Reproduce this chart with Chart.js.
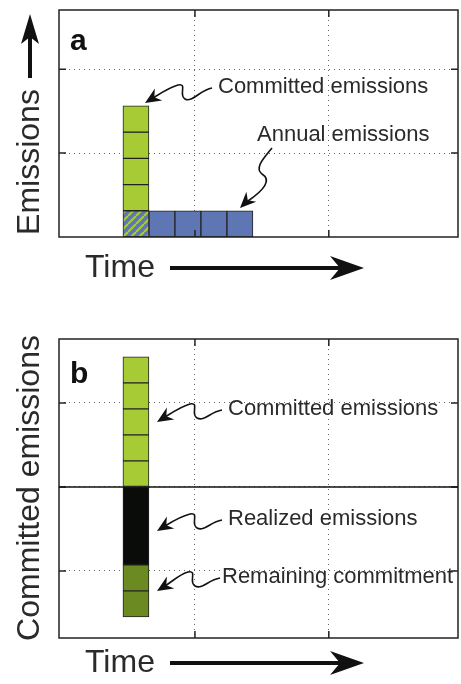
<!DOCTYPE html>
<html><head><meta charset="utf-8">
<script src="https://cdn.jsdelivr.net/npm/chart.js@4"></script>
<style>body{margin:0;background:#fff;width:461px;height:684px;overflow:hidden}
canvas{position:absolute;left:0}</style></head><body>
<div style="position:absolute;left:0;top:0;width:461px;height:300px"><canvas id="ca"></canvas></div>
<div style="position:absolute;left:0;top:300px;width:461px;height:384px"><canvas id="cb"></canvas></div>
<script>
// Panel a data (cell units)
const aCommittedX = [2.96, 2.96, 2.96, 2.96];
const aCommittedY = [[1,2],[2,3],[3,4],[4,5]];
const aSharedX = [2.96];
const aSharedY = [[0,1]];
const aAnnualX = [3.96, 4.96, 5.96, 6.96];
const aAnnualY = [[0,1],[0,1],[0,1],[0,1]];
const aXGrid = [5.23, 10.38];
const aYGrid = [3.2, 6.4];
// Panel b data
const bX = [2.96];
const bCommittedY = [[0,1],[1,2],[2,3],[3,4],[4,5]];
const bRealizedY = [[-3,0]];
const bRemainingY = [[-5,-4],[-4,-3]];
const bXGrid = [5.23, 10.38];
const bYGrid = [-3.23, 0, 3.23];

const LIGHT='#a6cb34', BLUE='#5f76b5', DARK='#6b8a22', FONT='"Liberation Sans", Arial, sans-serif';

function hatch(){
  const c=document.createElement('canvas');c.width=8;c.height=8;const g=c.getContext('2d');
  g.fillStyle=BLUE;g.fillRect(0,0,8,8);g.strokeStyle=LIGHT;g.lineWidth=2.2;
  for(let k=-8;k<=16;k+=8){g.beginPath();g.moveTo(k,8);g.lineTo(k+8,0);g.stroke();}
  return g.createPattern(c,'repeat');
}
function pts(xs,ys){return ys.map((y,i)=>({x:xs[Math.min(i,xs.length-1)],y}));}
function ds(data,color){return {data,backgroundColor:color,borderColor:'#222',borderWidth:1,borderSkipped:false,barThickness:26,grouped:false};}

function head(ctx,x,y,ang){ctx.save();ctx.translate(x,y);ctx.rotate(ang);ctx.beginPath();ctx.moveTo(0,0);ctx.lineTo(-16,-7);ctx.lineTo(-11,0);ctx.lineTo(-16,7);ctx.closePath();ctx.fill();ctx.restore();}
function squiggle(ctx,x0,y0,x1,y1,mx,my){
  ctx.save();ctx.strokeStyle='#111';ctx.fillStyle='#111';ctx.lineWidth=1.6;
  ctx.beginPath();ctx.moveTo(x0,y0);
  ctx.bezierCurveTo(x0-12,y0+2,mx+10,my+10,mx+3,my+6);
  ctx.bezierCurveTo(mx-4,my+2,mx+6,my-10,mx-4,my-8);
  ctx.bezierCurveTo(mx-12,my-6,x1+16,y1-10,x1+8,y1-5);
  ctx.stroke();
  head(ctx,x1,y1,Math.atan2(5,-8));
  ctx.restore();
}
function arrowH(ctx,x0,x1,y){
  ctx.save();ctx.fillStyle='#111';ctx.fillRect(x0,y-2,x1-x0-20,4);
  ctx.beginPath();ctx.moveTo(x1,y);ctx.lineTo(x1-34,y-12);ctx.lineTo(x1-24,y);ctx.lineTo(x1-34,y+12);ctx.closePath();ctx.fill();ctx.restore();
}
function frame(chart,xg,yg){
  const {ctx,chartArea:a,scales:{x,y}}=chart;ctx.save();ctx.strokeStyle='#222';ctx.lineWidth=1.5;
  ctx.strokeRect(a.left,a.top,a.right-a.left,a.bottom-a.top);
  xg.forEach(v=>{const p=x.getPixelForValue(v);ctx.beginPath();ctx.moveTo(p,a.top);ctx.lineTo(p,a.top+7);ctx.moveTo(p,a.bottom);ctx.lineTo(p,a.bottom-7);ctx.stroke();});
  yg.forEach(v=>{const p=y.getPixelForValue(v);ctx.beginPath();ctx.moveTo(a.left,p);ctx.lineTo(a.left+7,p);ctx.moveTo(a.right,p);ctx.lineTo(a.right-7,p);ctx.stroke();});
  ctx.restore();
}
function scalesFor(xmax,xg,ymin,ymax,yg){
  const grid={color:'#666',lineWidth:1,drawTicks:false,offset:false};
  return {
    x:{type:'linear',offset:false,min:0,max:xmax,afterBuildTicks:s=>{s.ticks=xg.map(v=>({value:v}))},ticks:{display:false},grid:Object.assign({},grid),border:{display:false,dash:[1,4]}},
    y:{type:'linear',min:ymin,max:ymax,afterBuildTicks:s=>{s.ticks=yg.map(v=>({value:v}))},ticks:{display:false},grid:Object.assign({},grid),border:{display:false,dash:[1,4]}}
  };
}
function text(ctx,s,x,y,size,weight,align){ctx.font=(weight||'normal')+' '+size+'px '+FONT;ctx.fillStyle=weight==='bold'?'#111':'#2a2a2a';ctx.textAlign=align||'left';ctx.textBaseline='middle';ctx.fillText(s,x,y);}

const decoA={id:'decoA',afterDraw(c){
  const ctx=c.ctx;frame(c,aXGrid,aYGrid);
  text(ctx,'a',70,42,30,'bold');
  text(ctx,'Committed emissions',218,87,22);
  text(ctx,'Annual emissions',257,135,22);
  squiggle(ctx,212,88,145,103,182,93);
  ctx.save();ctx.strokeStyle='#111';ctx.fillStyle='#111';ctx.lineWidth=1.6;ctx.beginPath();
  ctx.moveTo(272,148);ctx.bezierCurveTo(264,158,254,168,262,174);ctx.bezierCurveTo(272,180,264,190,248,201);ctx.stroke();
  head(ctx,240,208,Math.atan2(8,-8));ctx.restore();
  ctx.save();ctx.translate(30,162);ctx.rotate(-Math.PI/2);text(ctx,'Emissions',0,0,32,'normal','center');ctx.restore();
  ctx.save();ctx.fillStyle='#111';ctx.fillRect(28,34,4,44);ctx.beginPath();ctx.moveTo(30,14);ctx.lineTo(21,44);ctx.lineTo(30,37);ctx.lineTo(39,44);ctx.closePath();ctx.fill();ctx.restore();
  text(ctx,'Time',85,268,32);
  arrowH(ctx,170,364,268);
}};
const decoB={id:'decoB',afterDraw(c){
  const ctx=c.ctx;frame(c,bXGrid,bYGrid);const a=c.chartArea,y0=c.scales.y.getPixelForValue(0);
  ctx.save();ctx.strokeStyle='#111';ctx.lineWidth=1.5;ctx.beginPath();ctx.moveTo(a.left,y0);ctx.lineTo(a.right,y0);ctx.stroke();ctx.restore();
  text(ctx,'b',70,75,30,'bold');
  text(ctx,'Committed emissions',228,109,22);
  text(ctx,'Realized emissions',228,219,22);
  text(ctx,'Remaining commitment',222,277,22);
  squiggle(ctx,222,110,157,122,194,112);
  squiggle(ctx,222,220,157,231,194,222);
  squiggle(ctx,220,278,157,291,192,280);
  ctx.save();ctx.translate(30,188);ctx.rotate(-Math.PI/2);text(ctx,'Committed emissions',0,0,32,'normal','center');ctx.restore();
  text(ctx,'Time',85,363,32);
  arrowH(ctx,170,364,363);
}};
Chart.defaults.animation=false;
new Chart(document.getElementById('ca'),{type:'bar',
  data:{datasets:[ds(pts(aCommittedX,aCommittedY),LIGHT),ds(pts(aSharedX,aSharedY),hatch()),ds(pts(aAnnualX,aAnnualY),BLUE)]},
  options:{responsive:true,maintainAspectRatio:false,layout:{padding:{left:59,right:3,top:10,bottom:63}},
    plugins:{legend:{display:false},tooltip:{enabled:false}},scales:scalesFor(15.35,aXGrid,0,8.66,aYGrid)},plugins:[decoA]});
new Chart(document.getElementById('cb'),{type:'bar',
  data:{datasets:[ds(pts(bX,bCommittedY),LIGHT),ds(pts(bX,bRealizedY),'#0a0c0a'),ds(pts(bX,bRemainingY),DARK)]},
  options:{responsive:true,maintainAspectRatio:false,layout:{padding:{left:59,right:3,top:39,bottom:46}},
    plugins:{legend:{display:false},tooltip:{enabled:false}},scales:scalesFor(15.35,bXGrid,-5.81,5.69,bYGrid)},plugins:[decoB]});
</script></body></html>
